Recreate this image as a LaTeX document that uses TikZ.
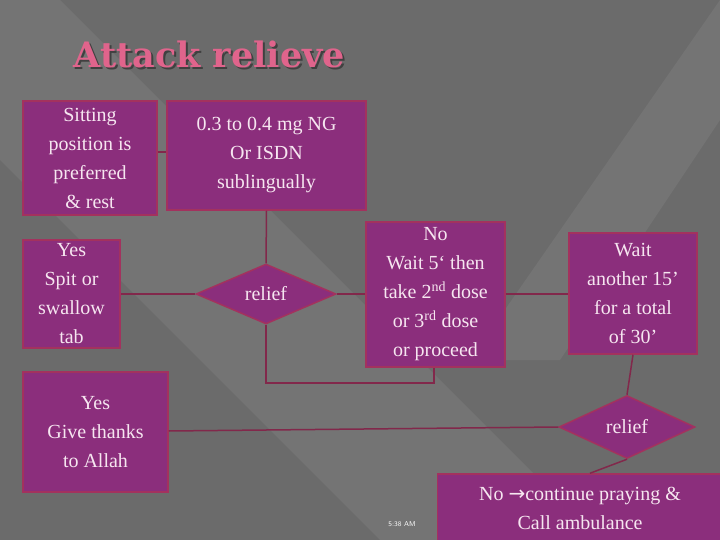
\documentclass[tikz,border=0pt]{standalone}
\usepackage{fontspec}
\setmainfont{Liberation Serif}
\newfontfamily\titlefont{DejaVu Serif}
\newfontfamily\symfont{DejaVu Sans}
\usetikzlibrary{shapes.geometric}
\definecolor{bg}{HTML}{6B6B6B}
\definecolor{bgl}{HTML}{747474}
\definecolor{boxf}{HTML}{8B2E7C}
\definecolor{boxd}{HTML}{A3325E}
\definecolor{txt}{HTML}{F6E6F0}
\definecolor{ttl}{HTML}{E0648C}
\tikzset{
  x=1pt,y=-1pt,
  box/.style={draw=boxd,line width=1.5pt,fill=boxf,text=txt,align=center,inner sep=2pt,font=\fontsize{20}{29}\selectfont},
  dia/.style={diamond,draw=boxd,line width=1.5pt,fill=boxf,text=txt,font=\fontsize{20}{29}\selectfont,inner sep=0pt,aspect=2.2},
  conn/.style={draw=boxd!80!black,line width=1.5pt}
}
\begin{document}
\begin{tikzpicture}
\fill[bg] (0,0) rectangle (720,540);
\fill[bgl] (0,0) -- (60,0) -- (600,540) -- (380,540) -- (0,160) -- cycle;
\fill[bgl] (720,0) -- (720,120) -- (560,360) -- (470,360) -- cycle;
\useasboundingbox (0,0) rectangle (720,540);
\node[anchor=west,font=\titlefont\bfseries\fontsize{35}{40}\selectfont] (title) at (70,55)
  {\rlap{\raisebox{-2pt}{\hspace{2pt}\textcolor{black!75}{Attack relieve}}}\textcolor{ttl}{Attack relieve}};
\node[box,minimum width=134,minimum height=114] (sit) at (90,158) {Sitting\\position is\\preferred\\\& rest};
\node[box,minimum width=199,minimum height=109] (ng) at (266.5,155.5) {0.3 to 0.4 mg NG\\Or ISDN\\sublingually};
\node[dia,minimum width=140,minimum height=60] (r1) at (266,294) {relief};
\node[box,minimum width=97,minimum height=108] (spit) at (71.5,294) {Yes\\Spit or\\swallow\\tab};
\node[box,minimum width=139,minimum height=145] (wait5) at (435.5,294.5) {No\\Wait 5‘ then\\take 2\textsuperscript{nd} dose\\or 3\textsuperscript{rd} dose\\or proceed};
\node[box,minimum width=128,minimum height=121] (wait15) at (633,293.5) {Wait\\another 15’\\for a total\\of 30’};
\node[box,minimum width=145,minimum height=120] (thanks) at (95.5,432) {Yes\\Give thanks\\to Allah};
\node[dia,minimum width=136,minimum height=63] (r2) at (627,427) {relief};
\node[box,minimum width=285,minimum height=68] (cont) at (580,508) {No {\symfont →}continue praying \&\\Call ambulance};
\node[text=white,font=\sffamily\fontsize{7}{8}\selectfont] (time) at (402,524) {5:38 AM};
\draw[conn] (sit.east |- 0,152) -- (ng.west |- 0,152);
\draw[conn] (ng.south) -- (r1.north);
\draw[conn] (r1.west) -- (spit.east |- r1.west);
\draw[conn] (r1.east) -- (wait5.west |- r1.east);
\draw[conn] (wait5.east |- 0,294) -- (wait15.west |- 0,294);
\draw[conn] (r1.south) -- (266,383) -- (434,383) -- (wait5.south -| 434,0);
\draw[conn] (wait15.south) -- (r2.north);
\draw[conn] (r2.west) -- (thanks.east |- 0,431);
\draw[conn] (r2.south) -- (cont.north -| 590,0);
\end{tikzpicture}
\end{document}
